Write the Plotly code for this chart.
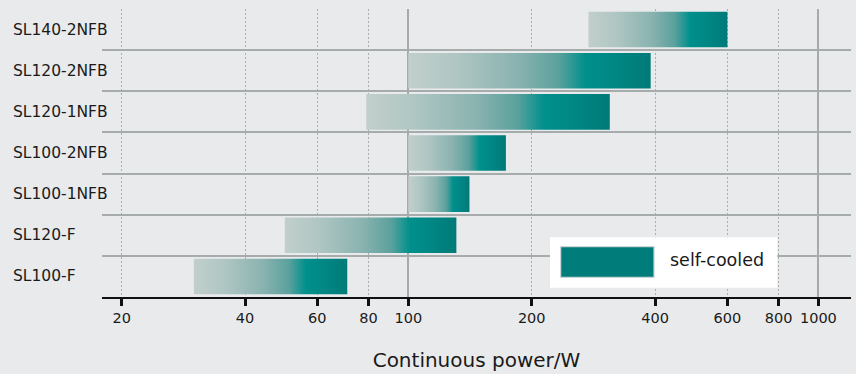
import plotly.graph_objects as go

# ---- data ----
models = ["SL140-2NFB", "SL120-2NFB", "SL120-1NFB", "SL100-2NFB",
          "SL100-1NFB", "SL120-F", "SL100-F"]
power_min = [275, 100, 79, 100, 100, 50, 30]
power_max = [600, 390, 310, 173, 141, 131, 71]
tick_values = [20, 40, 60, 80, 100, 200, 400, 600, 800, 1000]
tick_labels = ["20", "40", "60", "80", "100", "200", "400", "600", "800", "1000"]
major_lines = [100, 1000]
legend_label = "self-cooled"
axis_title = "Continuous power/W"

# ---- style ----
FONT = "DejaVu Sans"
TXT = "#1a1a1a"
BG = "#e9eaec"
GRAD = [[0, "#c2cfcb"], [0.2, "#afc6c3"], [0.45, "#8ab3b0"], [0.62, "#5ba19d"],
        [0.73, "#00908c"], [0.85, "#008784"], [1, "#007a78"]]
HALF = 0.432

fig = go.Figure()
for i, (name, lo, hi) in enumerate(zip(models, power_min, power_max)):
    fig.add_trace(go.Scatter(
        x=[lo, hi, hi, lo, lo],
        y=[i - HALF, i - HALF, i + HALF, i + HALF, i - HALF],
        mode="lines", fill="toself", line=dict(width=0, color="#007a78"),
        fillgradient=dict(type="horizontal", colorscale=GRAD),
        name=name, showlegend=False, hoverinfo="skip"))

# left-aligned category labels
for i, name in enumerate(models):
    fig.add_annotation(text=name, xref="paper", yref="y", x=-0.1215, y=i,
                       xanchor="left", yanchor="middle", showarrow=False,
                       font=dict(family=FONT, size=15.5, color=TXT))

# custom legend
fig.add_shape(type="rect", xref="paper", yref="paper",
              x0=0.5981, x1=0.9016, y0=0.0323, y1=0.2073,
              fillcolor="white", line=dict(width=0), layer="above")
fig.add_shape(type="rect", xref="paper", yref="paper",
              x0=0.6124, x1=0.7370, y0=0.0684, y1=0.1747,
              fillcolor="#007c7a", line=dict(width=1.2, color="#c9d6d3"), layer="above")
fig.add_annotation(text=legend_label, xref="paper", yref="paper", x=0.7560, y=0.1302,
                   xanchor="left", yanchor="middle", showarrow=False,
                   font=dict(family=FONT, size=17.5, color=TXT))

n = len(models)
fig.update_layout(
    width=856, height=374,
    margin=dict(l=102, r=5, t=9, b=77),
    paper_bgcolor=BG, plot_bgcolor=BG,
    showlegend=False,
    font=dict(family=FONT, color=TXT),
    xaxis=dict(
        type="log", range=[1.2532, 3.0795],
        tickmode="array", tickvals=tick_values, ticktext=tick_labels,
        ticks="outside", ticklen=7, tickwidth=2.5, tickcolor="#111111",
        tickfont=dict(family=FONT, size=14.5, color=TXT),
        showline=True, linecolor="#111111", linewidth=2,
        showgrid=True, gridcolor="#a9acad", gridwidth=1, griddash="2px,2px",
        minor=dict(tickmode="array", tickvals=major_lines, showgrid=True,
                   gridcolor="#a5a9aa", gridwidth=1.5, griddash="solid"),
        zeroline=False,
        title=dict(text=axis_title, standoff=28,
                   font=dict(family=FONT, size=20, color=TXT)),
    ),
    yaxis=dict(
        range=[n - 0.5, -0.5],
        tickmode="array", tickvals=list(range(n)), showticklabels=False,
        ticks="", showgrid=False, zeroline=False, showline=False,
        minor=dict(tickmode="array", tickvals=[i + 0.5 for i in range(n - 1)],
                   showgrid=True, gridcolor="#a6acac", gridwidth=2, ticks=""),
    ),
)

fig.write_html("out.html", config={"displayModeBar": False},
               post_script="document.body.style.margin='0';document.body.style.background='%s';" % BG)
